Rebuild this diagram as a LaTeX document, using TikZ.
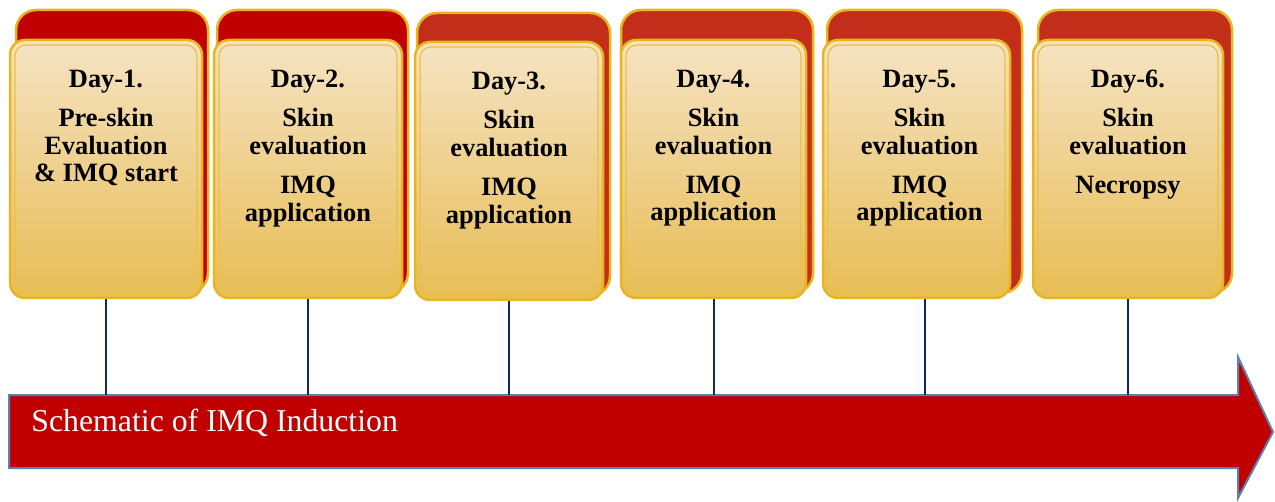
\documentclass[tikz,border=0pt]{standalone}
\usepackage{fontspec}
\setmainfont{Liberation Serif}

\definecolor{backred}{HTML}{C00000}
\definecolor{backorange}{HTML}{C32E1B}
\definecolor{cardline}{HTML}{E8B520}
\definecolor{cardtop}{HTML}{F5E3C3}
\definecolor{cardbot}{HTML}{E8BD55}
\definecolor{tickblue}{HTML}{0F2A5C}
\definecolor{arrowline}{HTML}{5B82AE}

\begin{document}
\begin{tikzpicture}[x=0.5pt, y=-0.5pt,
    back/.style={draw=cardline, line width=1.25pt, rounded corners=10pt, inner sep=0pt},
    front/.style={draw=cardline, line width=1.25pt, rounded corners=7.5pt, inner sep=0pt,
      top color=cardtop, bottom color=cardbot, minimum height=129pt,
      path picture={\draw[cardline!85, line width=0.6pt, rounded corners=5.5pt]
        ([shift={(2.5pt,-2.5pt)}]path picture bounding box.north west) rectangle
        ([shift={(-2.5pt,2.5pt)}]path picture bounding box.south east);}},
    daytext/.style={font=\bfseries\fontsize{13.2}{13.8}\selectfont, align=center, anchor=north, inner sep=0pt},
    tick/.style={draw=tickblue, line width=1pt},
    arrowbody/.style={fill=backred, draw=arrowline, line width=1pt}]
    \useasboundingbox (0,0) rectangle (1275,502);

    % back cards
    \node[back, fill=backred, minimum width=96pt, minimum height=141.5pt] (b1) at (112,151.5) {};
    \node[back, fill=backred, minimum width=95.5pt, minimum height=141.5pt] (b2) at (312.5,151.5) {};
    \node[back, fill=backorange, minimum width=96.5pt, minimum height=141.5pt] (b3) at (513.5,154.5) {};
    \node[back, fill=backorange, minimum width=96pt, minimum height=141.5pt] (b4) at (717,151.5) {};
    \node[back, fill=backorange, minimum width=97.5pt, minimum height=141.5pt] (b5) at (924.5,151.5) {};
    \node[back, fill=backorange, minimum width=97pt, minimum height=141.5pt] (b6) at (1135,151.5) {};

    % front cards
    \node[front, minimum width=96pt] (d1) at (106,169) {};
    \node[front, minimum width=94pt] (d2) at (308,169) {};
    \node[front, minimum width=94pt] (d3) at (509,171) {};
    \node[front, minimum width=92.5pt] (d4) at (713.5,169) {};
    \node[front, minimum width=93.5pt] (d5) at (916.5,169) {};
    \node[front, minimum width=95pt] (d6) at (1128,169) {};

    % texts
    \node[daytext] (t1) at ([yshift=-15.5pt]d1.north) {Day-1.\\[5.75pt] Pre-skin\\ Evaluation\\ \& IMQ start};
    \node[daytext] (t2) at ([yshift=-15.5pt]d2.north) {Day-2.\\[5.75pt] Skin\\ evaluation\\[5.75pt] IMQ\\ application};
    \node[daytext] (t3) at ([yshift=-15.5pt]d3.north) {Day-3.\\[5.75pt] Skin\\ evaluation\\[5.75pt] IMQ\\ application};
    \node[daytext] (t4) at ([yshift=-15.5pt]d4.north) {Day-4.\\[5.75pt] Skin\\ evaluation\\[5.75pt] IMQ\\ application};
    \node[daytext] (t5) at ([yshift=-15.5pt,xshift=1.5pt]d5.north) {Day-5.\\[5.75pt] Skin\\ evaluation\\[5.75pt] IMQ\\ application};
    \node[daytext] (t6) at ([yshift=-15.5pt]d6.north) {Day-6.\\[5.75pt] Skin\\ evaluation\\[5.75pt] Necropsy};

    % arrow
    \draw[arrowbody] (9,395) -- (1238,395) -- (1238,357) -- (1273,432)
      -- (1238,498) -- (1238,468) -- (9,468) -- cycle;
    \coordinate (bar) at (9,395);
    \node[anchor=base west, inner sep=0pt, text=white, font=\fontsize{15.9}{18}\selectfont] (title) at (31,431) {Schematic of IMQ Induction};

    % ticks
    \draw[tick] (d1.south) -- (d1.south |- bar);
    \draw[tick] (d2.south) -- (d2.south |- bar);
    \draw[tick] (d3.south) -- (d3.south |- bar);
    \draw[tick] (d4.south) -- (d4.south |- bar);
    \draw[tick] ([xshift=4.25pt]d5.south) -- ([xshift=4.25pt]d5.south |- bar);
    \draw[tick] (d6.south) -- (d6.south |- bar);

\end{tikzpicture}
\end{document}
